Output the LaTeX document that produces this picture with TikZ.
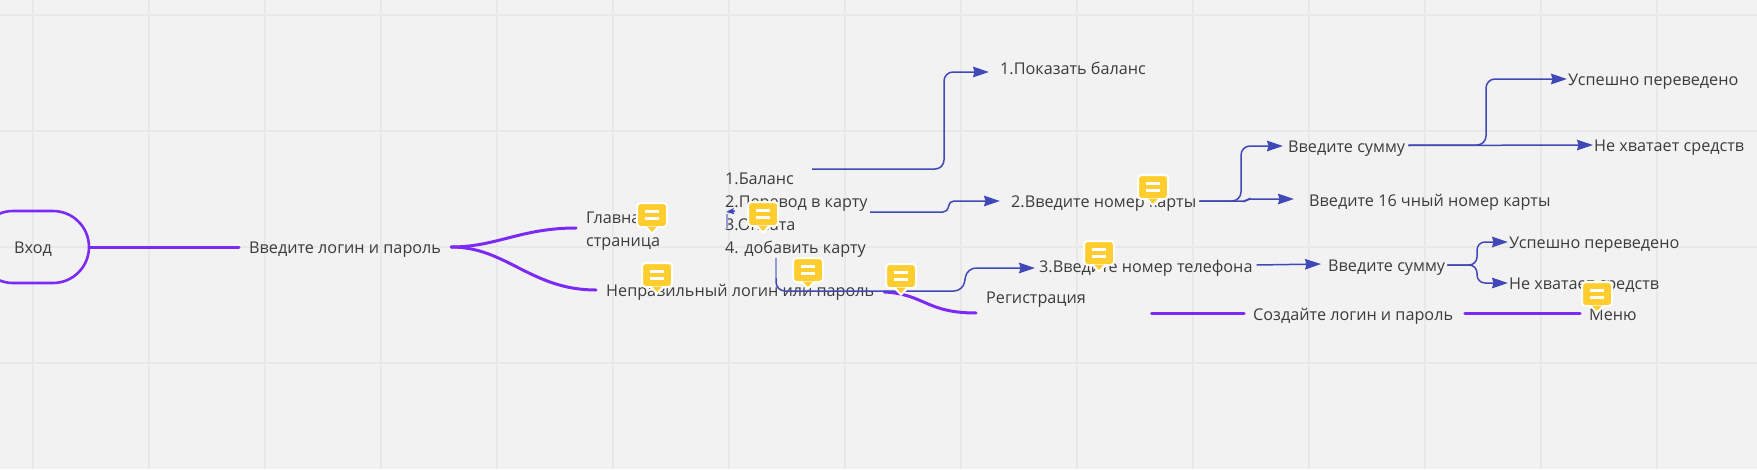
\documentclass[tikz,border=0pt]{standalone}
\usepackage{fontspec}
\setmainfont{Open Sans}
\usetikzlibrary{arrows.meta}
\definecolor{pagebg}{HTML}{F2F2F2}
\definecolor{gridc}{HTML}{E8E8E8}
\definecolor{vio}{HTML}{7B2BF5}
\definecolor{ind}{HTML}{4048B8}
\definecolor{ink}{HTML}{3C3C3C}
\definecolor{notey}{HTML}{FFCE2E}
\begin{document}
\begin{tikzpicture}[x=1pt,y=-1pt]
\tikzstyle{lbl}= [inner sep=0pt,anchor=west,text=ink,text height=15pt,text depth=3pt,font=\fontsize{16.2}{23}\selectfont]
\tikzstyle{blk}= [inner sep=0pt,anchor=west,text=ink,align=left,font=\fontsize{16.2}{23}\selectfont]
\tikzstyle{vl}= [vio,line width=3pt,line cap=round]
\tikzstyle{dep}= [ind,line width=1.5pt,rounded corners=9pt,-{Stealth[length=16pt,width=10.5pt,inset=1.5pt]}]
\tikzstyle{note}= [rectangle,rounded corners=3.5pt,draw=white,line width=2pt,fill=notey,minimum width=30pt,minimum height=24pt,inner sep=0pt]

\fill[pagebg] (0,0) rectangle (1757,469);
\clip (0,0) rectangle (1757,469);
\foreach \x in {33,149,...,1700} \draw[gridc,line width=1.2pt] (\x,0) -- (\x,469);
\foreach \y in {15,131,247,363} \draw[gridc,line width=1.2pt] (0,\y) -- (1757,\y);

\node[draw=vio,line width=2.6pt,minimum width=112pt,minimum height=72pt,rounded corners=36pt,inner sep=0pt,
  text=ink,text height=15pt,text depth=3pt,font=\fontsize{16.2}{23}\selectfont] (vhod) at (33,247) {Вход};

\path
	(249,247) node[lbl] (login) {Введите логин и пароль}
	(586,231) node[blk] (glavn) {Главная\\страница}
	(606,290) node[lbl] (neprav) {Неправильный логин или пароль}
	(725,215.5) node[blk] (menu) {1.Баланс\\2.Перевод в карту\\3.Оплата\\4. добавить карту}
	(1000,68) node[lbl] (pokaz) {1.Показать баланс}
	(1011,201) node[lbl] (nomk) {2.Введите номер карты}
	(1288,146) node[lbl] (summa) {Введите сумму}
	(1309,200.5) node[lbl] (chis) {Введите 16 чный номер карты}
	(1568,79) node[lbl] (okb) {Успешно переведено}
	(1594,145.5) node[lbl] (nob) {Не хватает средств}
	(1039,266) node[lbl] (nomt) {3.Введите номер телефона}
	(1328,265) node[lbl] (summb) {Введите сумму}
	(1509,242) node[lbl] (okc) {Успешно переведено}
	(1509,283) node[lbl] (noc) {Не хватает средств}
	(986,297) node[lbl] (regi) {Регистрация}
	(1253,314) node[lbl] (sozd) {Создайте логин и пароль}
	(1589,314) node[lbl] (menyu) {Меню}
;
\coordinate (mone) at (812,169);
\coordinate (mtwo) at (870,212);
\coordinate (mfou) at (776,258);
\coordinate (mback) at (735,211);

% violet links
\draw[vl] (vhod.east) -- ([xshift=-10pt]login.west);
\draw[vl] ([xshift=10pt]login.east) .. controls +(45,0) and +(-55,0) .. ([xshift=-10pt]glavn.west |- 0,228);
\draw[vl] ([xshift=10pt]login.east) .. controls +(55,0) and +(-65,0) .. ([xshift=-10pt]neprav.west);
\draw[vl] ([xshift=10pt,yshift=-2pt]neprav.east) .. controls +(40,2) and +(-50,0) .. ([xshift=-10pt,yshift=-16pt]regi.west);
\draw[vl] ([xshift=65.5pt,yshift=-16pt]regi.east) -- ([xshift=-9pt,yshift=1pt]sozd.west);
\draw[vl] ([xshift=11.5pt,yshift=1pt]sozd.east) -- ([xshift=-9pt,yshift=1pt]menyu.west);

% blue links
\draw[dep] (mone) -- (944,169) -- (944,72) -- ([xshift=-11pt,yshift=-4pt]pokaz.west);
\draw[dep,rounded corners=5pt] (mtwo) -- (948,212) -- (949,201) -- ([xshift=-11pt]nomk.west);
\draw[dep] ([xshift=3pt]nomk.east) -- (1241,201) -- (1241,146) -- ([xshift=-5pt]summa.west);
\draw[dep,rounded corners=2pt] ([xshift=3pt]nomk.east) -- (1246,201) -- (1248,199) -- ([xshift=-15pt,yshift=1.5pt]chis.west);
\draw[dep] ([xshift=3pt,yshift=1pt]summa.east) -- (1486,145) -- (1486,79) -- ([xshift=-1pt]okb.west);
\draw[dep] ([xshift=3pt,yshift=.5pt]summa.east) -- ([xshift=-1pt,yshift=.5pt]nob.west);
\draw[ind!55,line width=1.4pt] (mfou) -- (776,278);
\draw[dep] (776,278) -- (776,291) -- (963,291) -- (967,268) -- ([xshift=-4pt,yshift=-2pt]nomt.west);
\draw[dep] ([xshift=4pt,yshift=1pt]nomt.east) -- ([xshift=-7pt,yshift=1pt]summb.west);
\draw[dep,rounded corners=8pt] ([xshift=2pt]summb.east) -- (1477,265) -- (1477,242) -- ([xshift=-1pt]okc.west);
\draw[dep,rounded corners=8pt] ([xshift=2pt]summb.east) -- (1477,265) -- (1477,283) -- ([xshift=-1pt]noc.west);
\draw[ind!55,line width=1.2pt] (727,214) -- (727,228);
\draw[ind,line width=1.4pt,-{Stealth[length=8pt,width=6pt,inset=1pt]}] (mback) -- (726,212);

% comment marks
\foreach \n/\x/\y in {cma/652/215,cmb/657/275,cmc/763/214,cmd/808/270,cme/901/276,cmf/1099/253,cmg/1153/187,cmh/1597/294}{
  \node[note] (\n) at (\x,\y) {};
  \fill[white] ([xshift=-7pt]\n.south) -- ([xshift=7pt]\n.south) -- ([yshift=-7pt]\n.south) -- cycle;
  \fill[notey] ([xshift=-5pt,yshift=1.5pt]\n.south) -- ([xshift=5pt,yshift=1.5pt]\n.south) -- ([yshift=-4pt]\n.south) -- cycle;
  \draw[white,line width=2.4pt] ([xshift=-7pt,yshift=3.5pt]\n.center) -- ([xshift=7pt,yshift=3.5pt]\n.center);
  \draw[white,line width=2.4pt] ([xshift=-7pt,yshift=-3.5pt]\n.center) -- ([xshift=7pt,yshift=-3.5pt]\n.center);
}
\end{tikzpicture}
\end{document}
